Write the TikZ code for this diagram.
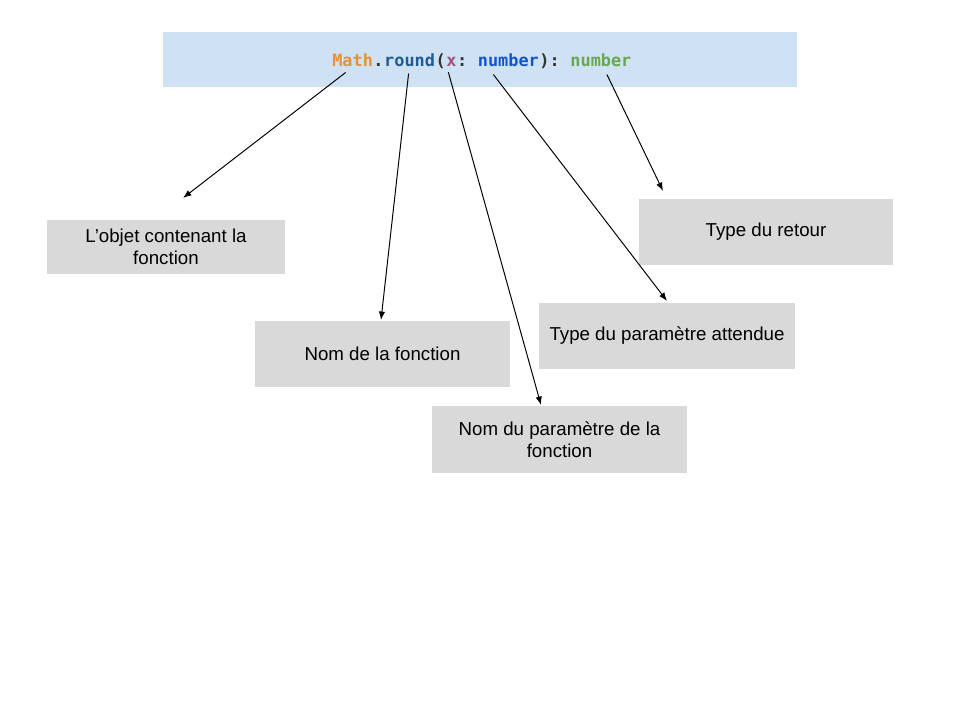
\documentclass[tikz,border=0pt]{standalone}
\usepackage{fontspec}
\setmainfont{Liberation Sans}
\setmonofont{DejaVu Sans Mono}
\usepackage{tikz}
\usetikzlibrary{arrows.meta,positioning}
\usepackage{xcolor}
\definecolor{bannerblue}{HTML}{CFE2F3}
\definecolor{boxgray}{HTML}{D9D9D9}
\definecolor{objorange}{HTML}{E69138}
\definecolor{fnblue}{HTML}{1F5A96}
\definecolor{parpurple}{HTML}{A64D79}
\definecolor{typeblue}{HTML}{1155CC}
\definecolor{retgreen}{HTML}{6AA84F}
\definecolor{punct}{HTML}{333333}

\begin{document}
\begin{tikzpicture} [
      x = 0.025cm, y = -0.025cm,
      banner/.style = { fill = bannerblue, minimum width = 15.85cm, minimum height = 1.375cm, inner sep = 0 },
      code/.style = { inner sep = 0, anchor = base west, font = \fontsize{12}{14}\selectfont\ttfamily\bfseries },
      label/.style = { fill = boxgray, align = center, inner sep = 0,
        font = \fontsize{13.3}{15.6}\selectfont },
      arr/.style = { -{Latex[length=6pt, width=4.5pt]}, black, line width = 0.7pt }
      ]
  \useasboundingbox (0,0) rectangle (960,720);

  % signature
  \node [banner] (sig) at (480,59.5) {};
  \node [code, text=objorange] (math) at (332,67) {Math};
  \node [code, text=punct] (dot) at (math.base east) {.};
  \node [code, text=fnblue] (round) at (dot.base east) {round};
  \node [code, text=punct] (open) at (round.base east) {(};
  \node [code, text=parpurple] (par) at (open.base east) {x};
  \node [code, text=punct] (colon) at (par.base east) {:\hphantom{x}};
  \node [code, text=typeblue] (partype) at (colon.base east) {number};
  \node [code, text=punct] (close) at (partype.base east) {):\hphantom{x}};
  \node [code, text=retgreen] (rettype) at (close.base east) {number};

  % explanations
  \node [label, minimum width = 5.95cm, minimum height = 1.35cm] (objet) at (166,247) {L’objet contenant la\\fonction};
  \node [label, minimum width = 6.375cm, minimum height = 1.65cm] (nom) at (382.5,354) {Nom de la fonction};
  \node [label, minimum width = 6.375cm, minimum height = 1.675cm] (param) at (559.5,439.5) {Nom du paramètre de la\\fonction};
  \node [label, minimum width = 6.4cm, minimum height = 1.65cm] (ptype) at (667,336) {Type du paramètre attendue};
  \node [label, minimum width = 6.35cm, minimum height = 1.65cm] (retour) at (766,232) {Type du retour};

  \coordinate (objet-tip) at (183,198);
  \coordinate (nom-tip) at (381,320);
  \coordinate (param-tip) at (541,405);
  \coordinate (ptype-tip) at (667,301);
  \coordinate (retour-tip) at (663,191);

  \draw [arr] ([shift={(-7,5)}]math.south) -- (objet-tip);
  \draw [arr] ([shift={(-1,6)}]round.south) -- (nom-tip);
  \draw [arr] ([shift={(-3,5)}]par.south) -- (param-tip);
  \draw [arr] ([shift={(-15,7)}]partype.south) -- (ptype-tip);
  \draw [arr] ([shift={(6,7)}]rettype.south) -- (retour-tip);
\end{tikzpicture}
\end{document}
